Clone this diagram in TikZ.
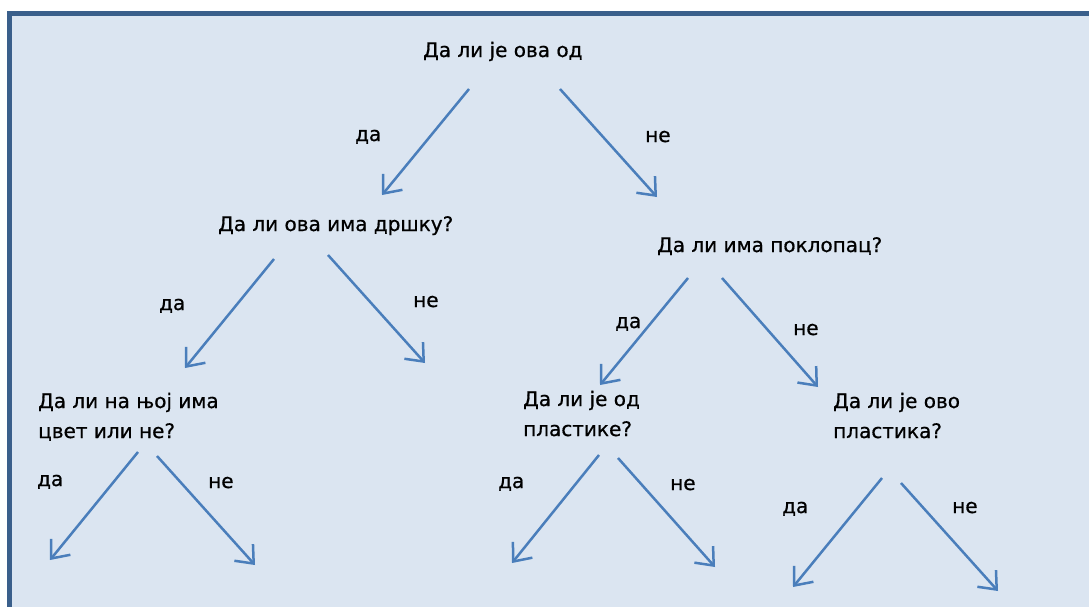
\documentclass[tikz,border=0pt]{standalone}
\usepackage{fontspec}
\setmainfont{DejaVu Sans}
\newfontfamily\labelfont[FakeBold=0.7]{DejaVu Sans}
\usetikzlibrary{arrows.meta}
\definecolor{panelfill}{HTML}{DBE5F1}
\definecolor{paneledge}{HTML}{3A5F8B}
\definecolor{arrowblue}{HTML}{4A7EBB}
\tikzset{
  question/.style={anchor=base west, inner sep=0pt, font=\labelfont\fontsize{20}{30}\selectfont, align=left},
  answer/.style={anchor=base west, inner sep=0pt, font=\labelfont\fontsize{20}{30}\selectfont},
  branch/.style={draw=arrowblue, line width=2.5pt,
    -{Straight Barb[length=15pt,width=25pt,line width=2.5pt]}}
}
\begin{document}
\begin{tikzpicture}[x=1pt,y=-1pt]
  \useasboundingbox (0,0) rectangle (1089,606);
  \clip (0,0) rectangle (1089,606);
  \fill[white] (0,0) rectangle (1089,606);
  % panel with its frame (right and bottom sides run past the page)
  \draw[paneledge, fill=panelfill, line width=5.5pt] (9.5,13.5) rectangle (1110,630);

  % questions (two-line ones are placed by the baseline of their last line)
  \node[question] (q0) at (423,57) {Да ли је ова од};
  \node[question] (q1) at (218,231) {Да ли ова има дршку?};
  \node[question] (q2) at (657,252) {Да ли има поклопац?};
  \node[question] (q3) at (38,438) {Да ли на њој има\\цвет или не?};
  \node[question] (q4) at (523,436) {Да ли је од\\пластике?};
  \node[question] (q5) at (833,438) {Да ли је ово\\пластика?};

  % answers
  \node[answer] (y0) at (355,141) {да};
  \node[answer] (n0) at (645,142) {не};
  \node[answer] (y1) at (159,310) {да};
  \node[answer] (n1) at (413,307) {не};
  \node[answer] (y2) at (615,328) {да};
  \node[answer] (n2) at (793,335) {не};
  \node[answer] (y3) at (37,486) {да};
  \node[answer] (n3) at (208,488) {не};
  \node[answer] (y4) at (498,488) {да};
  \node[answer] (n4) at (670,490) {не};
  \node[answer] (y5) at (782,513) {да};
  \node[answer] (n5) at (952,513) {не};

  % arrow ends
  \coordinate (s1) at (469,89);  \coordinate (e1) at (382,195);
  \coordinate (s2) at (560,89);  \coordinate (e2) at (657,197);
  \coordinate (s3) at (274,259); \coordinate (e3) at (185,368);
  \coordinate (s4) at (328,255); \coordinate (e4) at (425,363);
  \coordinate (s5) at (688,278); \coordinate (e5) at (600,385);
  \coordinate (s6) at (722,278); \coordinate (e6) at (818,387);
  \coordinate (s7) at (138,452); \coordinate (e7) at (50,560);
  \coordinate (s8) at (157,456); \coordinate (e8) at (255,565);
  \coordinate (s9) at (599,455); \coordinate (e9) at (512,563);
  \coordinate (s10) at (618,458); \coordinate (e10) at (715,567);
  \coordinate (s11) at (882,478); \coordinate (e11) at (793,587);
  \coordinate (s12) at (901,483); \coordinate (e12) at (998,591);

  \foreach \i in {1,...,12} \draw[branch] (s\i) -- (e\i);
\end{tikzpicture}
\end{document}
